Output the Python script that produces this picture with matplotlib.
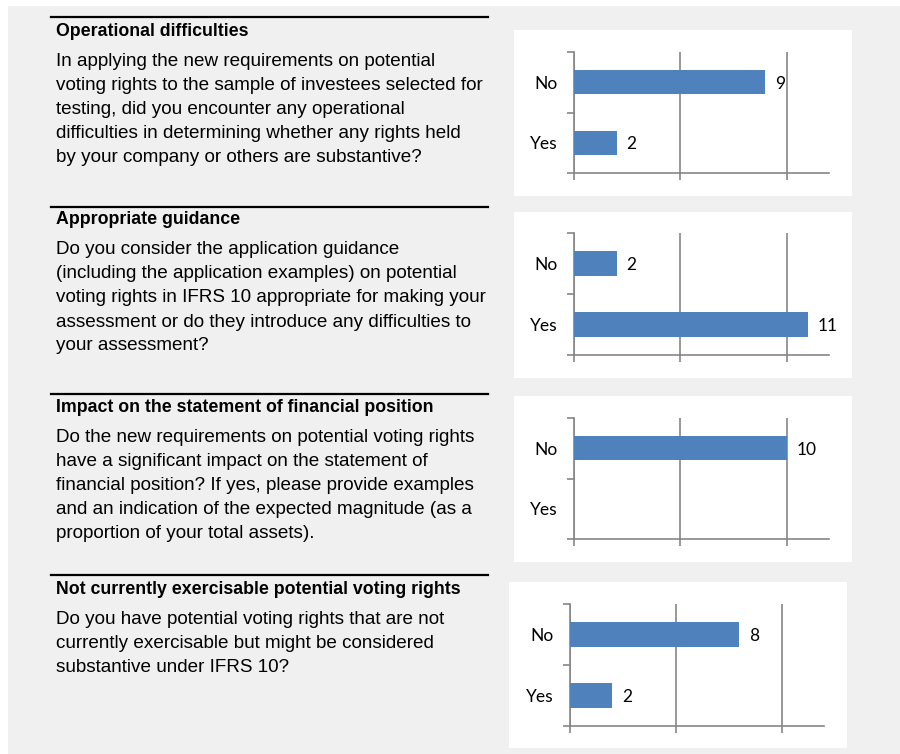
import numpy as np
import matplotlib.pyplot as plt
from matplotlib.patches import Rectangle
from matplotlib.lines import Line2D

# ============================================================
# DATOS
# ============================================================

titulos = [
    "Operational difficulties",
    "Appropriate guidance",
    "Impact on the statement of financial position",
    "Not currently exercisable potential voting rights",
]

textos = [
    ["In applying the new requirements on potential",
     "voting rights to the sample of investees selected for",
     "testing, did you encounter any operational",
     "difficulties in determining whether any rights held",
     "by your company or others are substantive?"],
    ["Do you consider the application guidance",
     "(including the application examples) on potential",
     "voting rights in IFRS 10 appropriate for making your",
     "assessment or do they introduce any difficulties to",
     "your assessment?"],
    ["Do the new requirements on potential voting rights",
     "have a significant impact on the statement of",
     "financial position? If yes, please provide examples",
     "and an indication of the expected magnitude (as a",
     "proportion of your total assets)."],
    ["Do you have potential voting rights that are not",
     "currently exercisable but might be considered",
     "substantive under IFRS 10?"],
]

categorias = ["No", "Yes"]
respuestas_no = [9, 2, 10, 8]
respuestas_yes = [2, 11, np.nan, 2]

# ============================================================
# LAYOUT (pixeles, origen arriba a la izquierda)
# ============================================================

W, H = 900, 754
fig = plt.figure(figsize=(W / 100, H / 100), dpi=100)
fig.patch.set_facecolor("white")


def fx(x):
    return x / W


def fy(y):
    return 1 - y / H


def caja(x0, y0, x1, y1):
    return [fx(x0), fy(y1), (x1 - x0) / W, (y1 - y0) / H]


gris_fondo = "#f0f0f0"
gris_eje = "#868686"
azul = "#4f81bd"

fig.patches.append(Rectangle((fx(8), 0), 1 - fx(8), fy(6), transform=fig.transFigure,
                             facecolor=gris_fondo, edgecolor="none", zorder=0))

lineas_y = [17, 207, 394, 575]
titulo_y = [31, 220, 407, 589]
texto_y = [62, 250, 437, 619]
paneles = [(514, 30, 852, 196), (514, 212, 852, 378),
           (514, 396, 852, 562), (509, 582, 847, 748)]
ejes = [(574, 52, 829, 173), (574, 233, 829, 355),
        (574, 418, 829, 539), (570, 604, 824, 726)]

fuente_texto = "Liberation Sans"
fuente_graf = "Lato"

# ============================================================
# TEXTO IZQUIERDA
# ============================================================

for i in range(4):
    fig.add_artist(Line2D([fx(51), fx(488)], [fy(lineas_y[i])] * 2,
                          color="black", lw=1.6, transform=fig.transFigure))
    fig.text(fx(56), fy(titulo_y[i]), titulos[i], fontsize=12.8, fontweight="bold",
             family=fuente_texto, va="center", ha="left")
    for j, linea in enumerate(textos[i]):
        fig.text(fx(56), fy(texto_y[i] + 24 * j), linea, fontsize=13.6,
                 family=fuente_texto, va="center", ha="left")

# ============================================================
# GRAFICAS
# ============================================================

for i in range(4):
    x0, y0, x1, y1 = paneles[i]
    fig.patches.append(Rectangle((fx(x0), fy(y1)), (x1 - x0) / W, (y1 - y0) / H,
                                 transform=fig.transFigure, facecolor="white",
                                 edgecolor="none", zorder=1))

    ax = fig.add_axes(caja(*ejes[i]))
    ax.set_zorder(2)
    ax.patch.set_visible(False)

    valores = [respuestas_no[i], respuestas_yes[i]]
    pos = [1, 0]
    ax.barh(pos, valores, height=0.4, color=azul, zorder=3)

    for p, v in zip(pos, valores):
        if np.isnan(v):
            continue
        ax.annotate(f"{v:g}", (v, p), xytext=(7, 0), textcoords="offset points",
                    ha="left", va="center_baseline", fontsize=12.5, family=fuente_graf)

    ax.set_xlim(0, 12)
    ax.set_ylim(-0.5, 1.5)
    ax.set_xticks([0, 5, 10])
    ax.set_xticklabels([])
    ax.set_yticks([-0.5, 0.5, 1.5])
    ax.set_yticklabels([])
    ax.set_yticks(pos, minor=True)
    ax.set_yticklabels(categorias, minor=True, fontsize=12.5, family=fuente_graf)
    ax.tick_params(axis="y", which="minor", length=0, pad=12)
    ax.tick_params(axis="both", which="major", length=5, width=1.2,
                   color=gris_eje, direction="out")

    ax.grid(axis="x", color=gris_eje, lw=1.2, zorder=0)
    ax.set_axisbelow(True)
    for lado in ["top", "right"]:
        ax.spines[lado].set_visible(False)
    for lado in ["left", "bottom"]:
        ax.spines[lado].set_color(gris_eje)
        ax.spines[lado].set_linewidth(1.2)

fig.savefig("out.png", dpi=100, facecolor="white")
